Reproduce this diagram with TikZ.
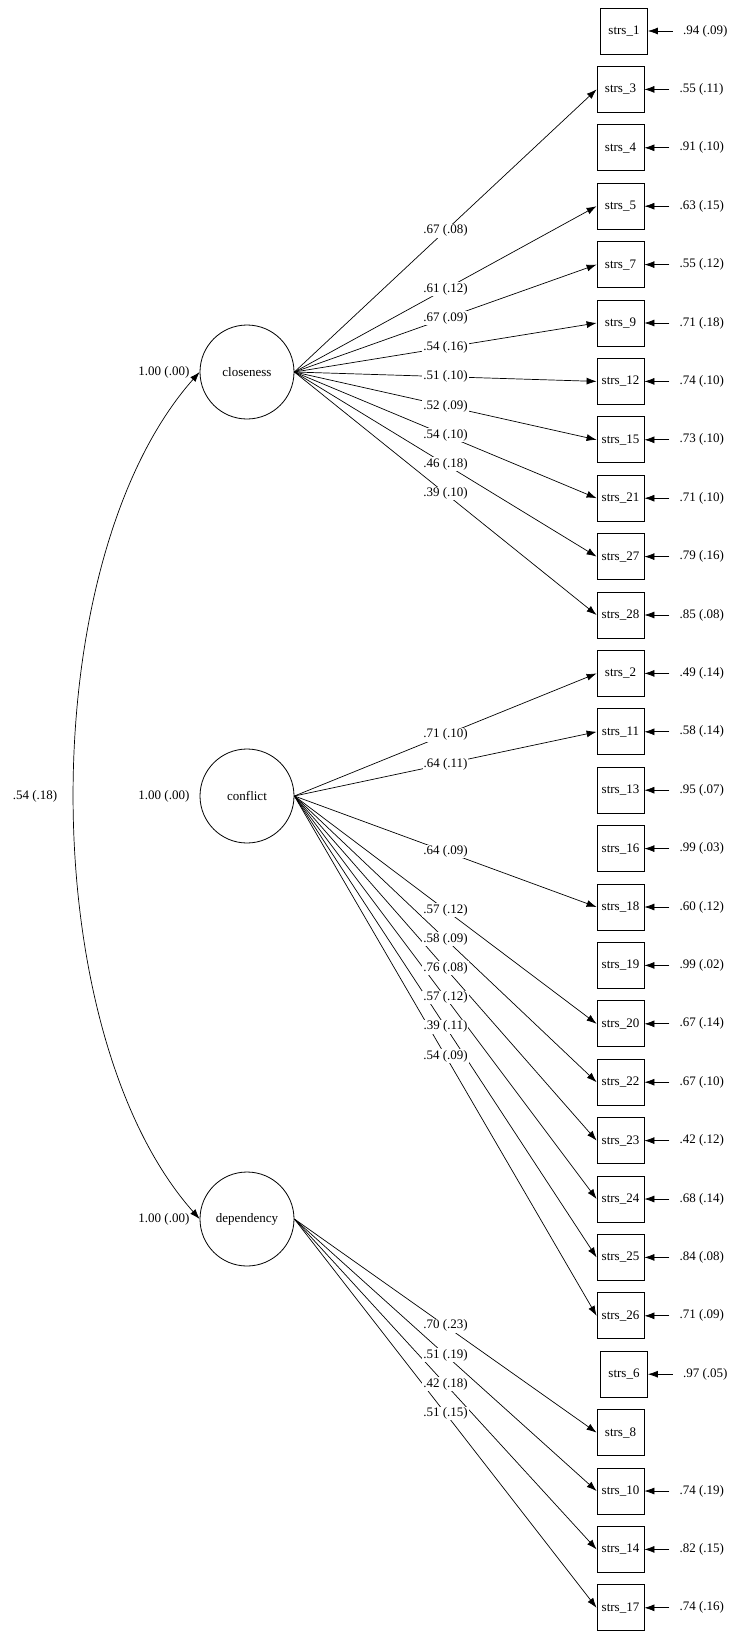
\documentclass[tikz,border=0pt]{standalone}
\usepackage{fontspec}
\setmainfont{Liberation Serif}
\usetikzlibrary{arrows.meta}
\begin{document}
\begin{tikzpicture}[x=1pt,y=-1pt,
  font=\fontsize{13}{15}\selectfont,
  lat/.style={circle,draw,line width=0.8pt,minimum size=94pt,inner sep=0pt},
  obs/.style={draw,line width=0.8pt,minimum width=47pt,minimum height=46pt,inner sep=0pt},
  arr/.style={line width=0.7pt,-{Latex[length=10pt,width=7pt]}},
  lab/.style={fill=white,inner sep=1pt},
  err/.style={anchor=west,inner sep=0pt}]
\path[use as bounding box,fill=white] (0,0) rectangle (754,1643);
\node[lat] (closeness) at (247,372) {closeness};
\node[lat] (conflict) at (247,796) {conflict};
\node[lat] (dependency) at (247,1219) {dependency};
\foreach \n/\i/\dx in {1/0/3.5,3/1/0,4/2/0,5/3/0,7/4/0,9/5/0,12/6/0,15/7/0,21/8/0,27/9/0,28/10/0,
  2/11/0,11/12/0,13/13/0,16/14/0,18/15/0,19/16/0,20/17/0,22/18/0,23/19/0,24/20/0,25/21/0,26/22/0,
  6/23/3.5,8/24/0,10/25/0,14/26/0,17/27/0}
  \node[obs] (s\n) at ({620.5+\dx},{31+58.4*\i}) {strs\_\n};
% loadings
\foreach \t/\v in {3/.67 (.08),5/.61 (.12),7/.67 (.09),9/.54 (.16),12/.51 (.10),15/.52 (.09),21/.54 (.10),27/.46 (.18),28/.39 (.10)}
  \draw[arr] (closeness.east) -- (s\t.west);
\foreach \t/\v in {2/.71 (.10),11/.64 (.11),18/.64 (.09),20/.57 (.12),22/.58 (.09),23/.76 (.08),24/.57 (.12),25/.39 (.11),26/.54 (.09)}
  \draw[arr] (conflict.east) -- (s\t.west);
\foreach \t/\v in {8/.70 (.23),10/.51 (.19),14/.42 (.18),17/.51 (.15)}
  \draw[arr] (dependency.east) -- (s\t.west);
\foreach \t/\v in {3/.67 (.08),5/.61 (.12),7/.67 (.09),9/.54 (.16),12/.51 (.10),15/.52 (.09),21/.54 (.10),27/.46 (.18),28/.39 (.10)}
  \path (closeness.east) -- node[lab] {\v} (s\t.west);
\foreach \t/\v in {2/.71 (.10),11/.64 (.11),18/.64 (.09),20/.57 (.12),22/.58 (.09),23/.76 (.08),24/.57 (.12),25/.39 (.11),26/.54 (.09)}
  \path (conflict.east) -- node[lab] {\v} (s\t.west);
\foreach \t/\v in {8/.70 (.23),10/.51 (.19),14/.42 (.18),17/.51 (.15)}
  \path (dependency.east) -- node[lab] {\v} (s\t.west);
% errors
\foreach \t/\v in {1/.94 (.09),3/.55 (.11),4/.91 (.10),5/.63 (.15),7/.55 (.12),9/.71 (.18),12/.74 (.10),15/.73 (.10),21/.71 (.10),27/.79 (.16),28/.85 (.08),
  2/.49 (.14),11/.58 (.14),13/.95 (.07),16/.99 (.03),18/.60 (.12),19/.99 (.02),20/.67 (.14),22/.67 (.10),23/.42 (.12),24/.68 (.14),25/.84 (.08),26/.71 (.09),
  6/.97 (.05),10/.74 (.19),14/.82 (.15),17/.74 (.16)}
{
  \node[err] (e\t) at ([xshift=35pt]s\t.east) {\v};
  \coordinate (ea\t) at ([xshift=25pt]s\t.east);
  \draw[arr] (ea\t) -- (s\t.east);
}
% variances
\foreach \f in {closeness,conflict,dependency}
  \node[anchor=east,inner sep=0pt] (v\f) at ([xshift=-10pt]\f.west) {1.00 (.00)};
\draw[line width=0.7pt,{Latex[length=10pt,width=7pt]}-{Latex[length=10pt,width=7pt]}]
  (closeness.west) .. controls (33,560) and (33,1031) .. (dependency.west);
\node (cov) at (35,796) {.54 (.18)};
\end{tikzpicture}
\end{document}
